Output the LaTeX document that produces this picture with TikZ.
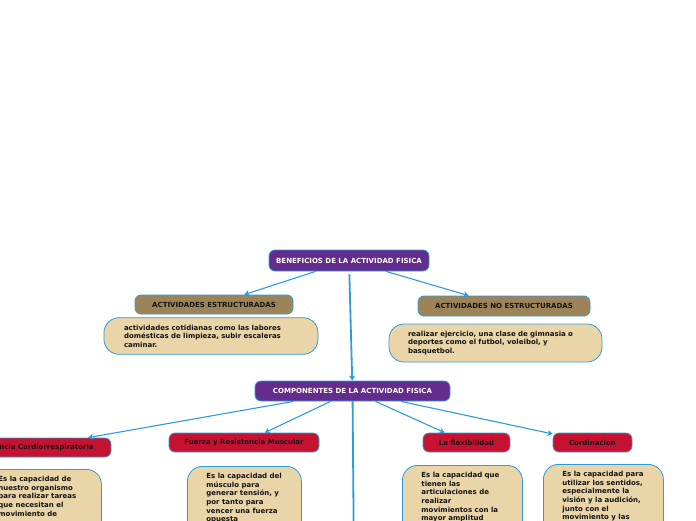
\documentclass[tikz,border=0pt]{standalone}
\usepackage{fontspec}
\setmainfont{DejaVu Sans}
\usetikzlibrary{arrows.meta}
\definecolor{MapPurple}{RGB}{100,44,141}
\definecolor{MapBrown}{RGB}{157,132,88}
\definecolor{MapRed}{RGB}{196,18,48}
\definecolor{MapTan}{RGB}{233,213,167}
\definecolor{MapBlue}{RGB}{44,157,220}
\definecolor{Ink}{RGB}{20,20,20}
\newcommand{\desclines}[2]{\parbox[c][130pt][t]{#1}{\raggedright #2}}
\tikzset{
  head/.style={draw=MapBlue,line width=.8pt,rounded corners=6pt,minimum height=19pt,inner sep=2pt,align=center,font=\fontsize{7}{8.6}\selectfont\bfseries},
  main/.style={head,fill=MapPurple,text=white,minimum height=20pt},
  kind/.style={head,fill=MapBrown,text=Ink},
  part/.style={head,fill=MapRed,text=Ink},
  desc/.style={draw=MapBlue,line width=.8pt,fill=MapTan,text=Ink,rounded corners=15pt,align=left,font=\fontsize{7}{8.6}\selectfont\bfseries,inner xsep=19pt,inner ysep=7pt},
  link/.style={-{Stealth[length=5pt,width=6pt,inset=1.5pt]},draw=MapBlue,line width=1.1pt},
  trunk/.style={link,line width=1.8pt}
}
\begin{document}
\begin{tikzpicture}[x=1pt,y=-1pt]
  \path[use as bounding box] (0,0) rectangle (696,520);
  \clip (0,0) rectangle (696,520);
  \node[main,minimum width=160pt,minimum height=21pt] (root) at (349,260.5) {BENEFICIOS DE LA ACTIVIDAD FISICA};
  \node[kind,minimum width=158pt] (est) at (214,304.5) {ACTIVIDADES ESTRUCTURADAS};
  \node[desc,text width=174pt,inner xsep=20pt,minimum height=36pt] (estD) at (211,336) {actividades cotidianas como las labores\\dom\'esticas de limpieza, subir escaleras\\caminar.};
  \node[kind,minimum width=172pt,minimum height=20pt] (noest) at (504,306) {ACTIVIDADES NO ESTRUCTURADAS};
  \node[desc,text width=175pt,minimum height=36pt] (noestD) at (495.5,343) {realizar ejercicio, una clase de gimnasia o\\deportes como el futbol, voleibol, y\\basquetbol.};
  \node[main,minimum width=195pt] (comp) at (352.5,391) {COMPONENTES DE LA ACTIVIDAD FISICA};
  \node[part,minimum width=158pt] (cardio) at (32,447.5) {Resistencia Cardiorrespiratoria};
  \node[part,minimum width=150pt] (fuerza) at (244,442.5) {Fuerza y Resistencia Muscular};
  \node[part,minimum width=87pt] (flex) at (466.5,442.5) {La flexibilidad};
  \node[part,minimum width=79pt] (cord) at (592.5,442.5) {Cordinacion};
  \node[desc,anchor=north west] (cardioD) at (-21,469) {\desclines{84pt}{Es la capacidad de\\nuestro organismo\\para realizar tareas\\que necesitan el\\movimiento de}};
  \node[desc,anchor=north west] (fuerzaD) at (187,466) {\desclines{76pt}{Es la capacidad del\\m\'usculo para\\generar tensi\'on, y\\por tanto para\\vencer una fuerza\\opuesta}};
  \node[desc,anchor=north west] (flexD) at (402,465) {\desclines{82pt}{Es la capacidad que\\tienen las\\articulaciones de\\realizar\\movimientos con la\\mayor amplitud}};
  \node[desc,anchor=north west] (cordD) at (543,464) {\desclines{82pt}{Es la capacidad para\\utilizar los sentidos,\\especialmente la\\visi\'on y la audici\'on,\\junto con el\\movimiento y las}};
  \coordinate (next) at (354,570);
  \draw[link] (root) -- (est);
  \draw[link] (root) -- (noest);
  \draw[trunk,shorten <=3pt] (root) -- (comp);
  \draw[link] (comp) -- (cardio);
  \draw[link] (comp) -- (fuerza);
  \draw[link] (comp) -- (flex);
  \draw[link] (comp) -- (cord);
  \draw[trunk] (comp) -- (next);
\end{tikzpicture}
\end{document}
